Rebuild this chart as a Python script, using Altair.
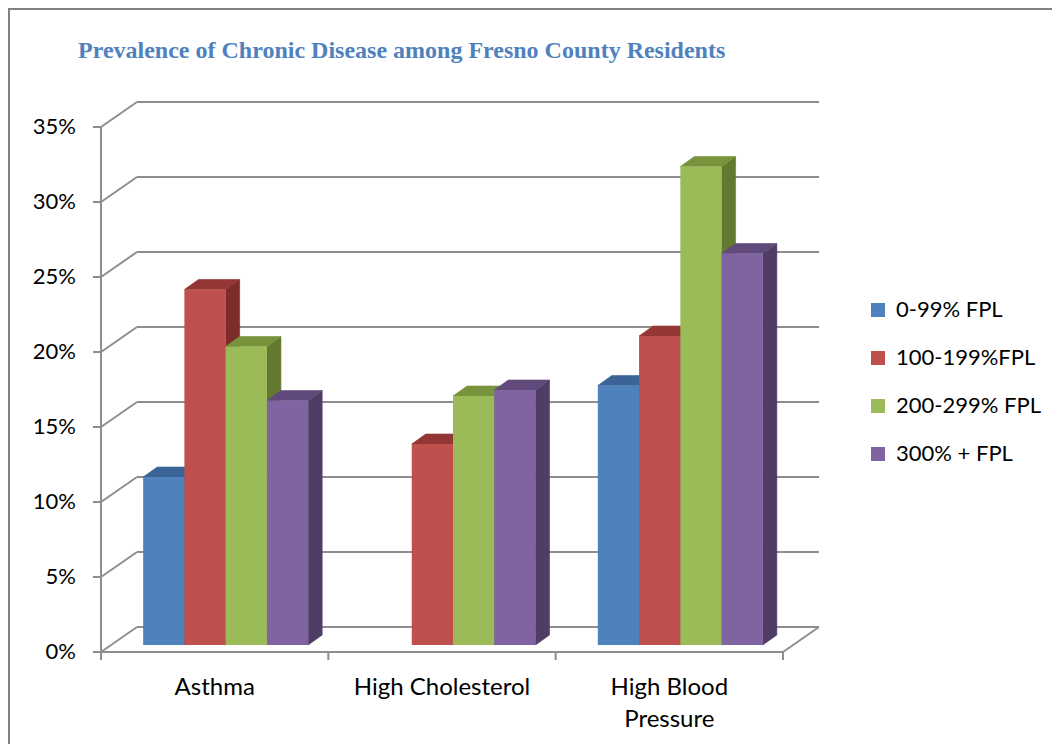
import altair as alt
import pandas as pd

# ---------------- data ----------------
categories = ["Asthma", "High Cholesterol", "High Blood Pressure"]
category_labels = ["Asthma", "High Cholesterol", "High Blood\nPressure"]
series = ["0-99% FPL", "100-199%FPL", "200-299% FPL", "300% + FPL"]
fpl_0_99 = [11.2, 0.0, 17.3]
fpl_100_199 = [23.7, 13.4, 20.6]
fpl_200_299 = [19.9, 16.6, 31.9]
fpl_300_plus = [16.3, 17.0, 26.1]
y_ticks = [0, 5, 10, 15, 20, 25, 30, 35]
y_tick_labels = ["0%", "5%", "10%", "15%", "20%", "25%", "30%", "35%"]
title_text = "Prevalence of Chronic Disease among Fresno County Residents"

# ---------------- styles / layout ----------------
front_colors = ["#4F81BD", "#C0504D", "#9BBB59", "#8064A2"]
top_colors = ["#3A6495", "#943634", "#77933C", "#604A7B"]
side_colors = ["#2F5078", "#7B2C2B", "#63792F", "#4F3D66"]
grid_color = "#8E8E8E"
FONT = "Lato"
W, H = 682, 525          # plot area (front floor width, 0..35% height)
NCAT = len(categories)
YMAX = 35
BW = 0.1815              # bar width in category units
DX, DY = 14, 10          # bar depth in pixels
BAR_SHIFT = 11           # bars sit a little behind the front plane
FRONT = 7                # front axis plane, px below bar baseline
BACK = -18               # back wall plane
WALL_DX = 36             # back wall horizontal shift

du = DX * NCAT / W
dv = DY * YMAX / H

values = [fpl_0_99, fpl_100_199, fpl_200_299, fpl_300_plus]
bar_rows, side_rows, top_rows = [], [], []
for c, cat in enumerate(categories):
    for i, s in enumerate(series):
        v = values[i][c]
        u0 = c + 0.5 + (i - 2) * BW
        u1 = u0 + BW
        bid = f"{c}-{i}"
        bar_rows.append(dict(category=cat, series=s, value=v, u0=u0, u1=u1, bar=bid))
        side_rows.append(dict(series=s, bar=bid, value=v, x=u1, ylo=0.0, yhi=v))
        side_rows.append(dict(series=s, bar=bid, value=v, x=u1 + du, ylo=dv, yhi=v + dv))
        top_rows.append(dict(series=s, bar=bid, value=v, y=v, xl=u0, xr=u1))
        top_rows.append(dict(series=s, bar=bid, value=v, y=v + dv, xl=u0 + du, xr=u1 + du))
bars = pd.DataFrame(bar_rows)
sides = pd.DataFrame(side_rows)
tops = pd.DataFrame(top_rows)

ticks = pd.DataFrame({"v": y_ticks, "label": y_tick_labels, "x0": 0, "x1": NCAT})
cats = pd.DataFrame({"u": [c + 0.5 for c in range(NCAT)], "label": category_labels, "zero": 0})
bounds = pd.DataFrame({"u": list(range(NCAT + 1)), "zero": 0})
axis_df = pd.DataFrame({"x0": [0], "x1": [NCAT], "v0": [0], "v1": [YMAX], "title": [title_text]})

xs = alt.Scale(domain=[0, NCAT], nice=False, zero=False)
ys = alt.Scale(domain=[0, YMAX], nice=False, zero=False)


def X(f):
    return alt.X(f, type="quantitative", scale=xs, axis=None)


def Y(f):
    return alt.Y(f, type="quantitative", scale=ys, axis=None)


frame = alt.Chart(axis_df).mark_rect(fill=None, stroke="#808080", strokeWidth=2).encode(
    x=alt.value(-92), x2=alt.value(2000), y=alt.value(-111), y2=alt.value(2000)
)

title_mark = alt.Chart(axis_df).mark_text(
    align="left", baseline="alphabetic", dx=-23, dy=-62,
    font="Liberation Serif", fontSize=24, fontWeight="bold", color="#4F81BD"
).encode(x=X("x0"), y=Y("v1"), text="title:N")

back_grid = alt.Chart(ticks).mark_rule(
    color=grid_color, strokeWidth=2, xOffset=WALL_DX, x2Offset=WALL_DX, yOffset=BACK
).encode(x=X("x0"), x2="x1", y=Y("v"))

left_diag = alt.Chart(ticks).mark_rule(
    color=grid_color, strokeWidth=2, x2Offset=WALL_DX, yOffset=FRONT, y2Offset=BACK
).encode(x=X("x0"), x2="x0", y=Y("v"), y2="v")

y_tick_marks = alt.Chart(ticks).mark_rule(
    color=grid_color, strokeWidth=2, xOffset=-8, yOffset=FRONT
).encode(x=X("x0"), x2="x0", y=Y("v"))

y_axis_line = alt.Chart(axis_df).mark_rule(
    color=grid_color, strokeWidth=2, yOffset=FRONT, y2Offset=FRONT + 8
).encode(x=X("x0"), y=Y("v1"), y2="v0")

floor_front = alt.Chart(axis_df).mark_rule(
    color=grid_color, strokeWidth=2, yOffset=FRONT
).encode(x=X("x0"), x2="x1", y=Y("v0"))

floor_right = alt.Chart(axis_df).mark_rule(
    color=grid_color, strokeWidth=2, x2Offset=WALL_DX, yOffset=FRONT, y2Offset=BACK
).encode(x=X("x1"), x2="x1", y=Y("v0"), y2="v0")

cat_ticks = alt.Chart(bounds).mark_rule(
    color=grid_color, strokeWidth=2, yOffset=FRONT, y2Offset=FRONT + 8
).encode(x=X("u"), y=Y("zero"), y2="zero")

y_labels = alt.Chart(ticks).mark_text(
    align="right", baseline="middle", dx=-25, dy=FRONT, font=FONT, fontSize=22, color="#000000"
).encode(x=X("x0"), y=Y("v"), text="label:N")

x_labels = alt.Chart(cats).mark_text(
    align="center", baseline="top", dy=FRONT + 24, font=FONT, fontSize=24,
    lineHeight=32, lineBreak="\n", color="#000000"
).encode(x=X("u"), y=Y("zero"), text="label:N")

side_layers, top_layers = [], []
for i, s in enumerate(series):
    side_layers.append(
        alt.Chart(sides).transform_filter(
            (alt.datum.series == s) & (alt.datum.value > 0)
        ).mark_area(
            orient="vertical", xOffset=BAR_SHIFT, color=side_colors[i],
            stroke=side_colors[i], strokeWidth=0.6
        ).encode(x=X("x"), y=Y("yhi"), y2="ylo", detail="bar:N")
    )
    top_layers.append(
        alt.Chart(tops).transform_filter(
            (alt.datum.series == s) & (alt.datum.value > 0)
        ).mark_area(
            orient="horizontal", xOffset=BAR_SHIFT, x2Offset=BAR_SHIFT, color=top_colors[i],
            stroke=top_colors[i], strokeWidth=0.6
        ).encode(y=Y("y"), x=X("xl"), x2="xr", detail="bar:N")
    )

fronts_layer = alt.Chart(bars).transform_filter("datum.value > 0").mark_rect(
    xOffset=BAR_SHIFT, x2Offset=BAR_SHIFT
).encode(
    x=X("u0"), x2="u1", y=Y("value"), y2=alt.Y2(datum=0),
    color=alt.Color(
        "series:N",
        scale=alt.Scale(domain=series, range=front_colors),
        legend=alt.Legend(
            title=None, orient="none", legendX=766, legendY=179,
            symbolType="square", symbolSize=196, symbolStrokeWidth=0,
            labelFont=FONT, labelFontSize=22, labelColor="#000000",
            labelOffset=7, rowPadding=26, padding=0,
        ),
    ),
    tooltip=["category:N", "series:N", "value:Q"],
)

chart = alt.layer(
    frame, title_mark, back_grid, left_diag, y_axis_line, y_tick_marks, floor_front, floor_right,
    cat_ticks, *side_layers, *top_layers, fronts_layer, y_labels, x_labels,
).properties(
    width=W, height=H,
    padding={"left": 93, "top": 112, "right": 269, "bottom": 99},
    autosize=alt.AutoSizeParams(type="none"),
).configure_view(stroke=None)

chart.save("out.html", embed_options={"renderer": "svg", "actions": False})
